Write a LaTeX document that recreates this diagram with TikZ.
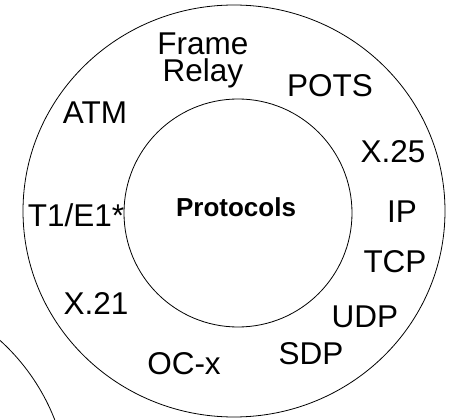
\documentclass[tikz,border=0pt]{standalone}
\usepackage{fontspec}
\setmainfont{Liberation Sans}

\tikzset{
  ring/.style={draw, line width=0.8pt},
  proto/.style={anchor=base, inner sep=0pt, font=\fontsize{31.5}{27}\selectfont, align=center},
  core/.style={anchor=base, inner sep=0pt, font=\fontsize{26}{30}\selectfont\bfseries}
}

\begin{document}
\begin{tikzpicture}[x=1pt, y=-1pt]
          \useasboundingbox (0, 0) rectangle (451, 420);
          \clip (0, 0) rectangle (451, 420);
          \draw[ring] (-141, 496) circle (210);
          \draw[ring] (234, 211) ellipse (211 and 206);
          \draw[ring] (238, 213) circle (114);

          \node[core] (protocols) at (236, 217) {Protocols};

          \node[proto] (frame) at (203, 82) {Frame\\Relay};
          \node[proto] (pots) at (330, 97) {POTS};
          \node[proto] (atm) at (95, 124) {ATM};
          \node[proto] (x25) at (393, 163) {X.25};
          \node[proto] (t1e1) at (76, 227) {T1/E1*};
          \node[proto] (ip) at (402, 223) {IP};
          \node[proto] (tcp) at (395, 273) {TCP};
          \node[proto] (x21) at (96, 315) {X.21};
          \node[proto] (udp) at (365, 327) {UDP};
          \node[proto] (sdp) at (311, 365) {SDP};
          \node[proto] (ocx) at (184, 375) {OC-x};
        \end{tikzpicture}
\end{document}
